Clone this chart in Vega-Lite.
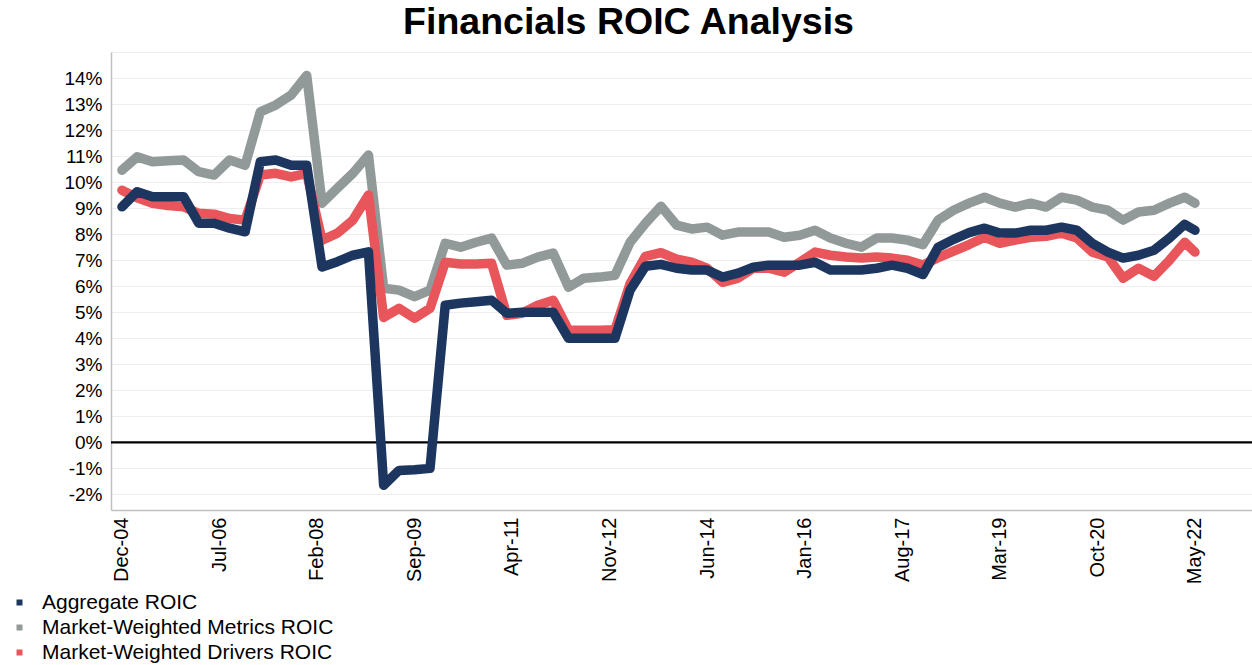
{
  "$schema": "https://vega.github.io/schema/vega-lite/v6.json",
  "autosize": {"type": "none"},
  "width": 1141,
  "height": 458,
  "padding": {"left": 111, "top": 52, "right": 0, "bottom": 155},
  "background": "white",
  "title": {
    "text": "Financials ROIC Analysis",
    "font": "Liberation Sans",
    "fontSize": 37.5,
    "fontWeight": "bold",
    "color": "#000000",
    "anchor": "middle",
    "frame": "group",
    "baseline": "alphabetic",
    "offset": 17,
    "dx": -53,
    "dy": 45
  },
  "config": {
    "view": {"stroke": null},
    "font": "Liberation Sans",
    "locale": {"number": {"decimal": ".", "thousands": ",", "grouping": [3], "currency": ["$", ""], "minus": "-"}},
    "axisY": {"labelOverlap": false, "tickCount": 18},
    "axisX": {"labelOverlap": false}
  },
  "datasets": {
    "roic": [
      {"date": "2004-12-31", "Aggregate ROIC": 0.0905, "Market-Weighted Metrics ROIC": 0.1046, "Market-Weighted Drivers ROIC": 0.0969},
      {"date": "2005-03-31", "Aggregate ROIC": 0.0963, "Market-Weighted Metrics ROIC": 0.1097, "Market-Weighted Drivers ROIC": 0.0940},
      {"date": "2005-06-30", "Aggregate ROIC": 0.0944, "Market-Weighted Metrics ROIC": 0.1078, "Market-Weighted Drivers ROIC": 0.0919},
      {"date": "2005-09-30", "Aggregate ROIC": 0.0944, "Market-Weighted Metrics ROIC": 0.1082, "Market-Weighted Drivers ROIC": 0.0910},
      {"date": "2005-12-31", "Aggregate ROIC": 0.0944, "Market-Weighted Metrics ROIC": 0.1085, "Market-Weighted Drivers ROIC": 0.0905},
      {"date": "2006-03-31", "Aggregate ROIC": 0.0842, "Market-Weighted Metrics ROIC": 0.1040, "Market-Weighted Drivers ROIC": 0.0880},
      {"date": "2006-06-30", "Aggregate ROIC": 0.0842, "Market-Weighted Metrics ROIC": 0.1027, "Market-Weighted Drivers ROIC": 0.0877},
      {"date": "2006-09-30", "Aggregate ROIC": 0.0823, "Market-Weighted Metrics ROIC": 0.1085, "Market-Weighted Drivers ROIC": 0.0860},
      {"date": "2006-12-31", "Aggregate ROIC": 0.0809, "Market-Weighted Metrics ROIC": 0.1065, "Market-Weighted Drivers ROIC": 0.0854},
      {"date": "2007-03-31", "Aggregate ROIC": 0.1078, "Market-Weighted Metrics ROIC": 0.1270, "Market-Weighted Drivers ROIC": 0.1027},
      {"date": "2007-06-30", "Aggregate ROIC": 0.1085, "Market-Weighted Metrics ROIC": 0.1296, "Market-Weighted Drivers ROIC": 0.1034},
      {"date": "2007-09-30", "Aggregate ROIC": 0.1065, "Market-Weighted Metrics ROIC": 0.1335, "Market-Weighted Drivers ROIC": 0.1020},
      {"date": "2007-12-31", "Aggregate ROIC": 0.1065, "Market-Weighted Metrics ROIC": 0.1410, "Market-Weighted Drivers ROIC": 0.1034},
      {"date": "2008-03-31", "Aggregate ROIC": 0.0674, "Market-Weighted Metrics ROIC": 0.0919, "Market-Weighted Drivers ROIC": 0.0777},
      {"date": "2008-06-30", "Aggregate ROIC": 0.0694, "Market-Weighted Metrics ROIC": 0.0977, "Market-Weighted Drivers ROIC": 0.0804},
      {"date": "2008-09-30", "Aggregate ROIC": 0.0719, "Market-Weighted Metrics ROIC": 0.1034, "Market-Weighted Drivers ROIC": 0.0854},
      {"date": "2008-12-31", "Aggregate ROIC": 0.0732, "Market-Weighted Metrics ROIC": 0.1104, "Market-Weighted Drivers ROIC": 0.0950},
      {"date": "2009-03-31", "Aggregate ROIC": -0.0165, "Market-Weighted Metrics ROIC": 0.0592, "Market-Weighted Drivers ROIC": 0.0480},
      {"date": "2009-06-30", "Aggregate ROIC": -0.0108, "Market-Weighted Metrics ROIC": 0.0585, "Market-Weighted Drivers ROIC": 0.0515},
      {"date": "2009-09-30", "Aggregate ROIC": -0.0105, "Market-Weighted Metrics ROIC": 0.0560, "Market-Weighted Drivers ROIC": 0.0477},
      {"date": "2009-12-31", "Aggregate ROIC": -0.0100, "Market-Weighted Metrics ROIC": 0.0585, "Market-Weighted Drivers ROIC": 0.0515},
      {"date": "2010-03-31", "Aggregate ROIC": 0.0527, "Market-Weighted Metrics ROIC": 0.0765, "Market-Weighted Drivers ROIC": 0.0692},
      {"date": "2010-06-30", "Aggregate ROIC": 0.0535, "Market-Weighted Metrics ROIC": 0.0750, "Market-Weighted Drivers ROIC": 0.0685},
      {"date": "2010-09-30", "Aggregate ROIC": 0.0540, "Market-Weighted Metrics ROIC": 0.0769, "Market-Weighted Drivers ROIC": 0.0685},
      {"date": "2010-12-31", "Aggregate ROIC": 0.0546, "Market-Weighted Metrics ROIC": 0.0785, "Market-Weighted Drivers ROIC": 0.0688},
      {"date": "2011-03-31", "Aggregate ROIC": 0.0496, "Market-Weighted Metrics ROIC": 0.0681, "Market-Weighted Drivers ROIC": 0.0488},
      {"date": "2011-06-30", "Aggregate ROIC": 0.0500, "Market-Weighted Metrics ROIC": 0.0688, "Market-Weighted Drivers ROIC": 0.0496},
      {"date": "2011-09-30", "Aggregate ROIC": 0.0500, "Market-Weighted Metrics ROIC": 0.0712, "Market-Weighted Drivers ROIC": 0.0527},
      {"date": "2011-12-31", "Aggregate ROIC": 0.0500, "Market-Weighted Metrics ROIC": 0.0727, "Market-Weighted Drivers ROIC": 0.0546},
      {"date": "2012-03-31", "Aggregate ROIC": 0.0400, "Market-Weighted Metrics ROIC": 0.0596, "Market-Weighted Drivers ROIC": 0.0431},
      {"date": "2012-06-30", "Aggregate ROIC": 0.0400, "Market-Weighted Metrics ROIC": 0.0631, "Market-Weighted Drivers ROIC": 0.0431},
      {"date": "2012-09-30", "Aggregate ROIC": 0.0400, "Market-Weighted Metrics ROIC": 0.0635, "Market-Weighted Drivers ROIC": 0.0431},
      {"date": "2012-12-31", "Aggregate ROIC": 0.0400, "Market-Weighted Metrics ROIC": 0.0642, "Market-Weighted Drivers ROIC": 0.0433},
      {"date": "2013-03-31", "Aggregate ROIC": 0.0585, "Market-Weighted Metrics ROIC": 0.0769, "Market-Weighted Drivers ROIC": 0.0610},
      {"date": "2013-06-30", "Aggregate ROIC": 0.0677, "Market-Weighted Metrics ROIC": 0.0842, "Market-Weighted Drivers ROIC": 0.0715},
      {"date": "2013-09-30", "Aggregate ROIC": 0.0684, "Market-Weighted Metrics ROIC": 0.0907, "Market-Weighted Drivers ROIC": 0.0729},
      {"date": "2013-12-31", "Aggregate ROIC": 0.0669, "Market-Weighted Metrics ROIC": 0.0835, "Market-Weighted Drivers ROIC": 0.0704},
      {"date": "2014-03-31", "Aggregate ROIC": 0.0662, "Market-Weighted Metrics ROIC": 0.0820, "Market-Weighted Drivers ROIC": 0.0692},
      {"date": "2014-06-30", "Aggregate ROIC": 0.0662, "Market-Weighted Metrics ROIC": 0.0827, "Market-Weighted Drivers ROIC": 0.0669},
      {"date": "2014-09-30", "Aggregate ROIC": 0.0635, "Market-Weighted Metrics ROIC": 0.0796, "Market-Weighted Drivers ROIC": 0.0615},
      {"date": "2014-12-31", "Aggregate ROIC": 0.0650, "Market-Weighted Metrics ROIC": 0.0808, "Market-Weighted Drivers ROIC": 0.0631},
      {"date": "2015-03-31", "Aggregate ROIC": 0.0673, "Market-Weighted Metrics ROIC": 0.0808, "Market-Weighted Drivers ROIC": 0.0669},
      {"date": "2015-06-30", "Aggregate ROIC": 0.0681, "Market-Weighted Metrics ROIC": 0.0808, "Market-Weighted Drivers ROIC": 0.0669},
      {"date": "2015-09-30", "Aggregate ROIC": 0.0681, "Market-Weighted Metrics ROIC": 0.0788, "Market-Weighted Drivers ROIC": 0.0654},
      {"date": "2015-12-31", "Aggregate ROIC": 0.0681, "Market-Weighted Metrics ROIC": 0.0796, "Market-Weighted Drivers ROIC": 0.0692},
      {"date": "2016-03-31", "Aggregate ROIC": 0.0692, "Market-Weighted Metrics ROIC": 0.0815, "Market-Weighted Drivers ROIC": 0.0731},
      {"date": "2016-06-30", "Aggregate ROIC": 0.0662, "Market-Weighted Metrics ROIC": 0.0785, "Market-Weighted Drivers ROIC": 0.0719},
      {"date": "2016-09-30", "Aggregate ROIC": 0.0662, "Market-Weighted Metrics ROIC": 0.0765, "Market-Weighted Drivers ROIC": 0.0712},
      {"date": "2016-12-31", "Aggregate ROIC": 0.0662, "Market-Weighted Metrics ROIC": 0.0750, "Market-Weighted Drivers ROIC": 0.0708},
      {"date": "2017-03-31", "Aggregate ROIC": 0.0669, "Market-Weighted Metrics ROIC": 0.0785, "Market-Weighted Drivers ROIC": 0.0712},
      {"date": "2017-06-30", "Aggregate ROIC": 0.0681, "Market-Weighted Metrics ROIC": 0.0785, "Market-Weighted Drivers ROIC": 0.0708},
      {"date": "2017-09-30", "Aggregate ROIC": 0.0669, "Market-Weighted Metrics ROIC": 0.0777, "Market-Weighted Drivers ROIC": 0.0700},
      {"date": "2017-12-31", "Aggregate ROIC": 0.0645, "Market-Weighted Metrics ROIC": 0.0760, "Market-Weighted Drivers ROIC": 0.0681},
      {"date": "2018-03-31", "Aggregate ROIC": 0.0750, "Market-Weighted Metrics ROIC": 0.0854, "Market-Weighted Drivers ROIC": 0.0710},
      {"date": "2018-06-30", "Aggregate ROIC": 0.0780, "Market-Weighted Metrics ROIC": 0.0892, "Market-Weighted Drivers ROIC": 0.0735},
      {"date": "2018-09-30", "Aggregate ROIC": 0.0806, "Market-Weighted Metrics ROIC": 0.0919, "Market-Weighted Drivers ROIC": 0.0760},
      {"date": "2018-12-31", "Aggregate ROIC": 0.0823, "Market-Weighted Metrics ROIC": 0.0942, "Market-Weighted Drivers ROIC": 0.0788},
      {"date": "2019-03-31", "Aggregate ROIC": 0.0804, "Market-Weighted Metrics ROIC": 0.0919, "Market-Weighted Drivers ROIC": 0.0765},
      {"date": "2019-06-30", "Aggregate ROIC": 0.0804, "Market-Weighted Metrics ROIC": 0.0904, "Market-Weighted Drivers ROIC": 0.0777},
      {"date": "2019-09-30", "Aggregate ROIC": 0.0815, "Market-Weighted Metrics ROIC": 0.0919, "Market-Weighted Drivers ROIC": 0.0788},
      {"date": "2019-12-31", "Aggregate ROIC": 0.0815, "Market-Weighted Metrics ROIC": 0.0904, "Market-Weighted Drivers ROIC": 0.0792},
      {"date": "2020-03-31", "Aggregate ROIC": 0.0827, "Market-Weighted Metrics ROIC": 0.0942, "Market-Weighted Drivers ROIC": 0.0804},
      {"date": "2020-06-30", "Aggregate ROIC": 0.0815, "Market-Weighted Metrics ROIC": 0.0931, "Market-Weighted Drivers ROIC": 0.0785},
      {"date": "2020-09-30", "Aggregate ROIC": 0.0765, "Market-Weighted Metrics ROIC": 0.0904, "Market-Weighted Drivers ROIC": 0.0731},
      {"date": "2020-12-31", "Aggregate ROIC": 0.0731, "Market-Weighted Metrics ROIC": 0.0892, "Market-Weighted Drivers ROIC": 0.0712},
      {"date": "2021-03-31", "Aggregate ROIC": 0.0708, "Market-Weighted Metrics ROIC": 0.0854, "Market-Weighted Drivers ROIC": 0.0631},
      {"date": "2021-06-30", "Aggregate ROIC": 0.0719, "Market-Weighted Metrics ROIC": 0.0885, "Market-Weighted Drivers ROIC": 0.0669},
      {"date": "2021-09-30", "Aggregate ROIC": 0.0738, "Market-Weighted Metrics ROIC": 0.0892, "Market-Weighted Drivers ROIC": 0.0638},
      {"date": "2021-12-31", "Aggregate ROIC": 0.0785, "Market-Weighted Metrics ROIC": 0.0919, "Market-Weighted Drivers ROIC": 0.0700},
      {"date": "2022-03-31", "Aggregate ROIC": 0.0838, "Market-Weighted Metrics ROIC": 0.0942, "Market-Weighted Drivers ROIC": 0.0769},
      {"date": "2022-05-31", "Aggregate ROIC": 0.0815, "Market-Weighted Metrics ROIC": 0.0919, "Market-Weighted Drivers ROIC": 0.0731}
    ]
  },
  "layer": [
    {
      "data": {"values": [{}]},
      "mark": {"type": "rule", "color": "#000000", "strokeWidth": 2.2},
      "encoding": {
        "y": {
          "datum": 0,
          "type": "quantitative",
          "scale": {"domain": [-0.026, 0.15], "nice": false, "zero": false},
          "axis": {
            "title": null,
            "tickCount": 18,
            "format": ".0%",
            "labelExpr": "datum.value > 0.145 ? '' : datum.label",
            "labelFont": "Liberation Sans",
            "labelFontSize": 19,
            "labelColor": "#000000",
            "labelPadding": 9,
            "labelFlush": false,
            "labelOverlap": false,
            "ticks": false,
            "grid": true,
            "gridColor": "#eeeeee",
            "gridWidth": 1,
            "domainColor": "#c0c0c0",
            "domainWidth": 1.5
          }
        }
      }
    },
    {
      "data": {"name": "roic"},
      "transform": [
        {"fold": ["Aggregate ROIC", "Market-Weighted Metrics ROIC", "Market-Weighted Drivers ROIC"], "as": ["series", "roic"]},
        {"filter": "datum.series === 'Market-Weighted Metrics ROIC'"}
      ],
      "mark": {"type": "line", "strokeWidth": 9.5, "strokeJoin": "round", "strokeCap": "round"},
      "encoding": {
        "x": {"field": "date", "type": "temporal"},
        "y": {"field": "roic", "type": "quantitative"},
        "color": {"field": "series", "type": "nominal"}
      }
    },
    {
      "data": {"name": "roic"},
      "transform": [
        {"fold": ["Aggregate ROIC", "Market-Weighted Metrics ROIC", "Market-Weighted Drivers ROIC"], "as": ["series", "roic"]},
        {"filter": "datum.series === 'Market-Weighted Drivers ROIC'"}
      ],
      "mark": {"type": "line", "strokeWidth": 9.5, "strokeJoin": "round", "strokeCap": "round"},
      "encoding": {
        "x": {"field": "date", "type": "temporal"},
        "y": {"field": "roic", "type": "quantitative"},
        "color": {"field": "series", "type": "nominal"}
      }
    },
    {
      "data": {"name": "roic"},
      "transform": [
        {"fold": ["Aggregate ROIC", "Market-Weighted Metrics ROIC", "Market-Weighted Drivers ROIC"], "as": ["series", "roic"]},
        {"filter": "datum.series === 'Aggregate ROIC'"}
      ],
      "mark": {"type": "line", "strokeWidth": 9.5, "strokeJoin": "round", "strokeCap": "round"},
      "encoding": {
        "x": {
          "field": "date",
          "type": "temporal",
          "scale": {
            "type": "utc",
            "domain": [
              {"year": 2004, "month": 10, "date": 27, "utc": true},
              {"year": 2023, "month": 5, "date": 4, "utc": true}
            ]
          },
          "axis": {
            "title": null,
            "values": [
              {"year": 2004, "month": 12, "date": 31, "utc": true},
              {"year": 2006, "month": 7, "date": 31, "utc": true},
              {"year": 2008, "month": 2, "date": 29, "utc": true},
              {"year": 2009, "month": 9, "date": 30, "utc": true},
              {"year": 2011, "month": 4, "date": 30, "utc": true},
              {"year": 2012, "month": 11, "date": 30, "utc": true},
              {"year": 2014, "month": 6, "date": 30, "utc": true},
              {"year": 2016, "month": 1, "date": 31, "utc": true},
              {"year": 2017, "month": 8, "date": 31, "utc": true},
              {"year": 2019, "month": 3, "date": 31, "utc": true},
              {"year": 2020, "month": 10, "date": 31, "utc": true},
              {"year": 2022, "month": 5, "date": 31, "utc": true}
            ],
            "format": "%b-%y",
            "labelAngle": -90,
            "labelFont": "Liberation Sans",
            "labelFontSize": 20,
            "labelColor": "#000000",
            "labelPadding": 7,
            "labelOverlap": false,
            "labelFlush": false,
            "ticks": false,
            "grid": false,
            "domainColor": "#c0c0c0",
            "domainWidth": 1.5
          }
        },
        "y": {
          "field": "roic",
          "type": "quantitative",
          "scale": {"domain": [-0.026, 0.15], "nice": false, "zero": false},
          "axis": {
            "title": null,
            "tickCount": 18,
            "format": ".0%",
            "labelExpr": "datum.value > 0.145 ? '' : datum.label",
            "labelFont": "Liberation Sans",
            "labelFontSize": 19,
            "labelColor": "#000000",
            "labelPadding": 9,
            "labelFlush": false,
            "labelOverlap": false,
            "ticks": false,
            "grid": true,
            "gridColor": "#eeeeee",
            "gridWidth": 1,
            "domainColor": "#c0c0c0",
            "domainWidth": 1.5
          }
        },
        "color": {
          "field": "series",
          "type": "nominal",
          "scale": {
            "domain": ["Aggregate ROIC", "Market-Weighted Metrics ROIC", "Market-Weighted Drivers ROIC"],
            "range": ["#1d3660", "#929a99", "#e8565b"]
          },
          "legend": {
            "title": null,
            "orient": "none",
            "direction": "vertical",
            "legendX": -102,
            "legendY": 540,
            "padding": 0,
            "symbolType": "square",
            "symbolSize": 36,
            "symbolStrokeWidth": 0,
            "labelFont": "Liberation Sans",
            "labelFontSize": 21,
            "labelColor": "#000000",
            "labelOffset": 12,
            "rowPadding": 3,
            "labelLimit": 0,
            "encode": {
              "symbols": {
                "update": {
                  "fill": {"scale": "color", "field": "value"},
                  "fillOpacity": {"value": 1},
                  "strokeWidth": {"value": 0}
                }
              }
            }
          }
        }
      }
    }
  ]
}
